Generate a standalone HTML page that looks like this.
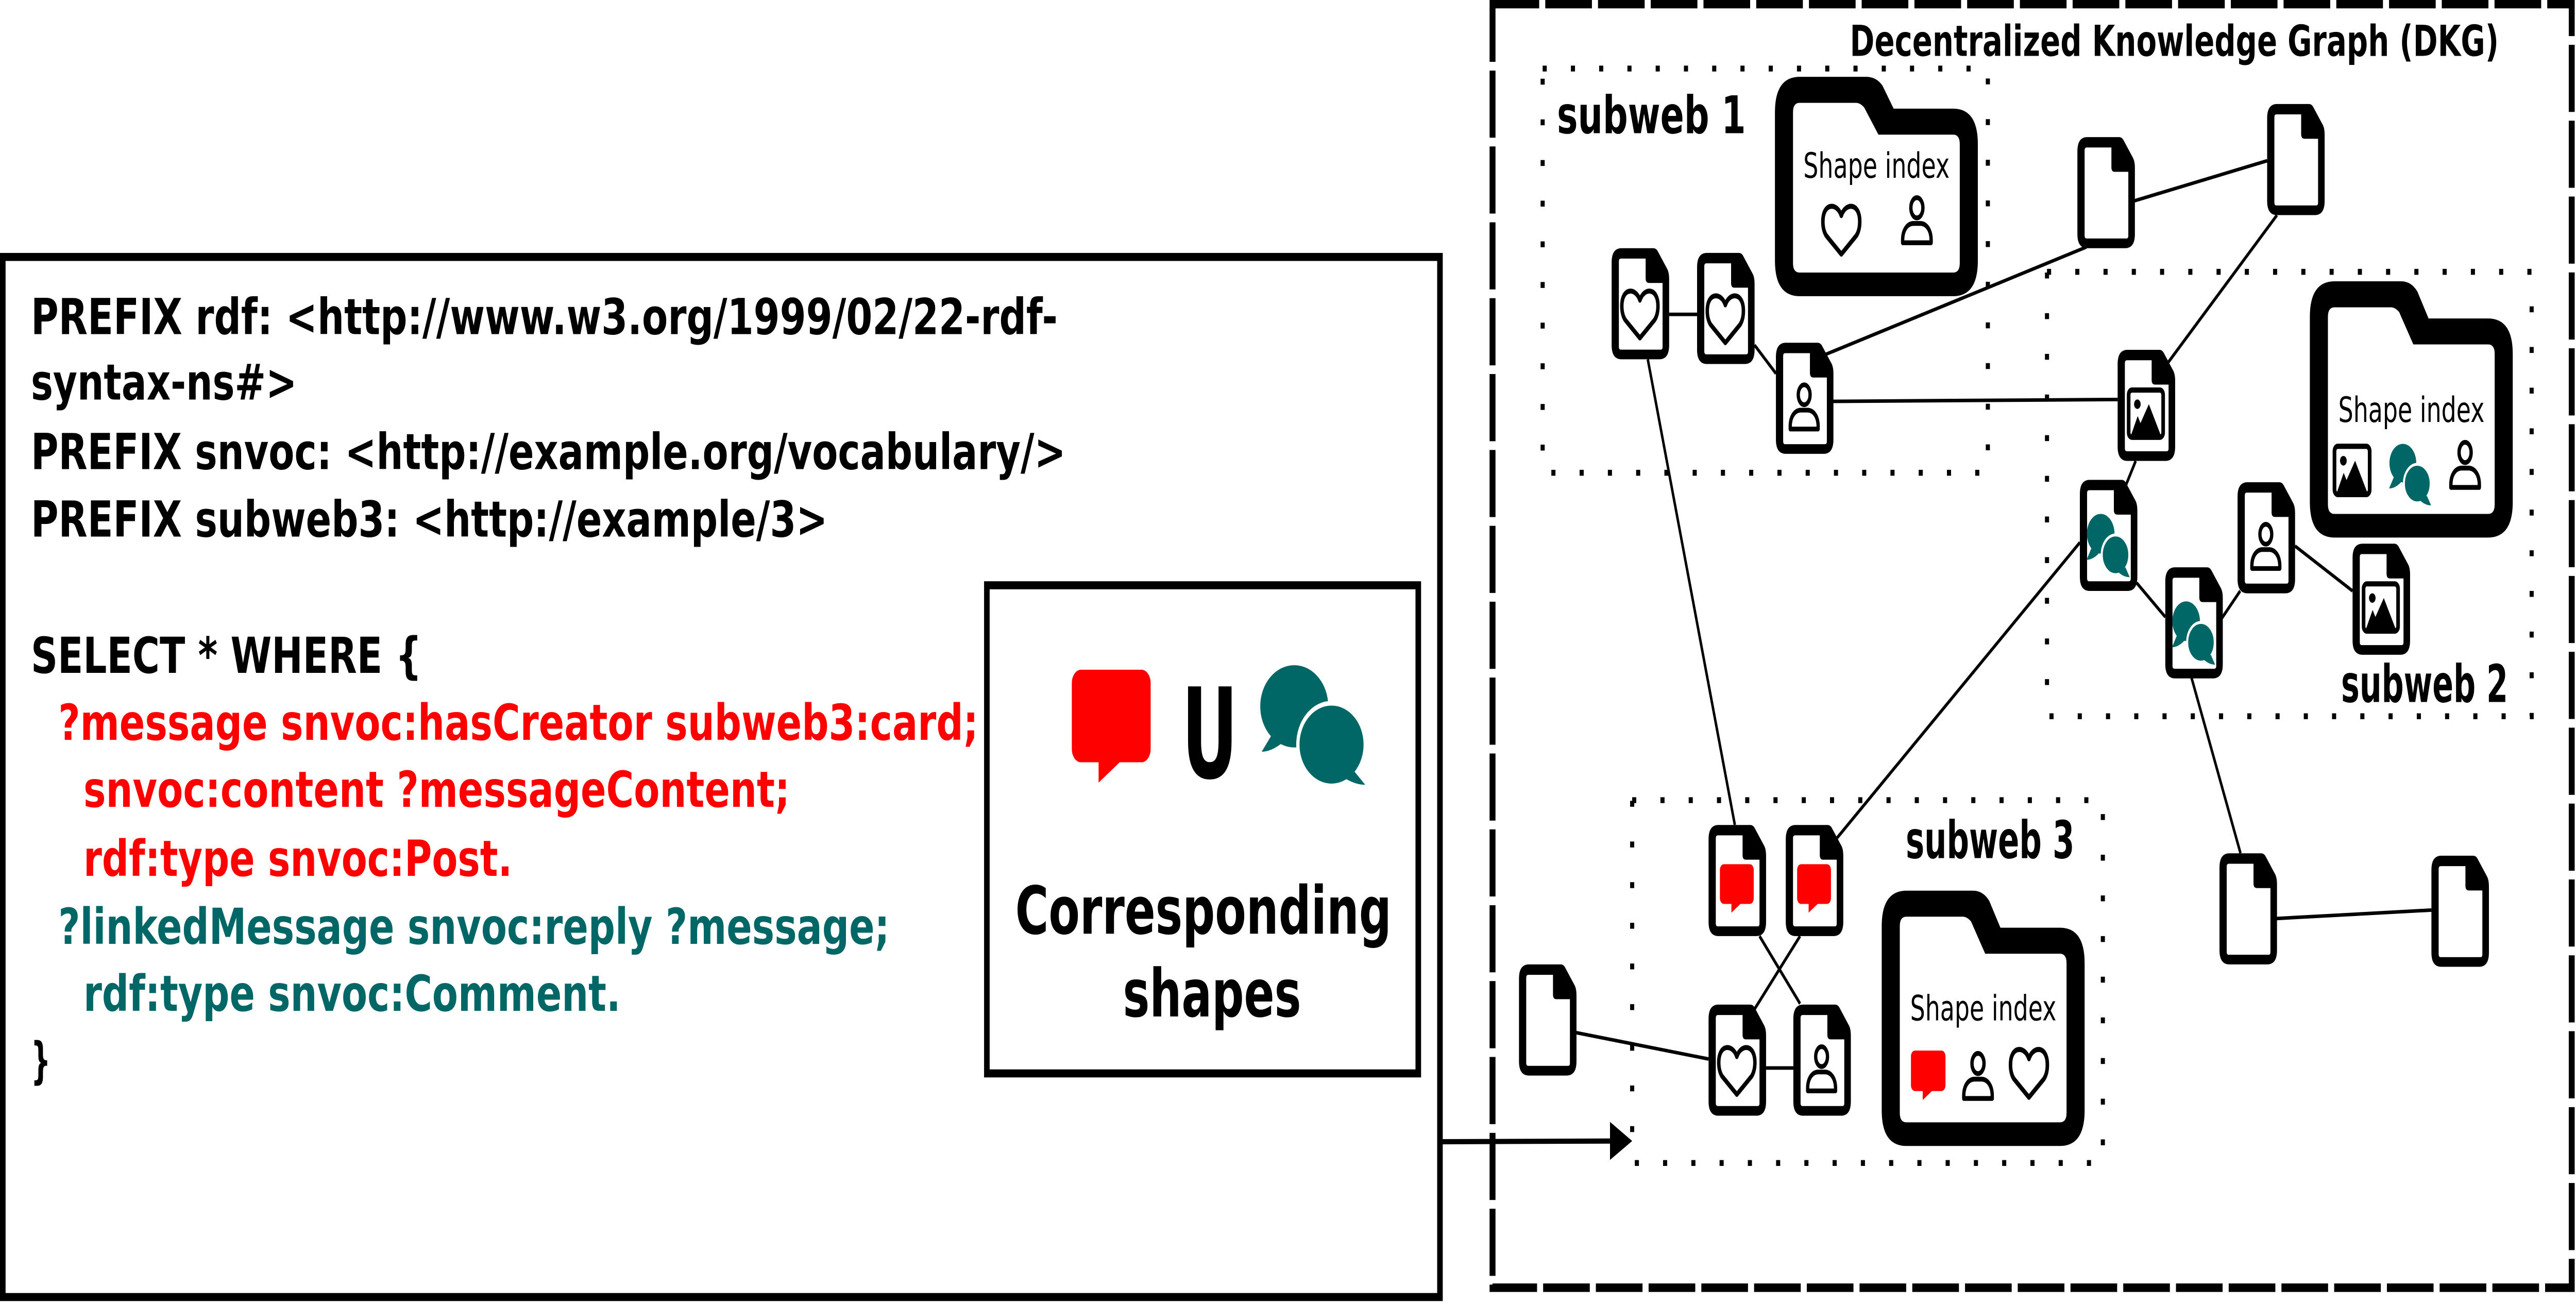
<!DOCTYPE html>
<html><head><meta charset="utf-8"><title>DKG shapes</title>
<style>html,body{margin:0;padding:0;background:#fff;width:100%;height:100%;overflow:hidden;}svg{display:block;position:absolute;left:0;top:0;width:100vw;height:100vh;}</style></head>
<body>
<svg id="fig" xmlns="http://www.w3.org/2000/svg" viewBox="0 0 1568 551.65" preserveAspectRatio="none">
<rect x="0" y="0" width="1568" height="551.65" fill="#fff"/>
<g font-family="'DejaVu Sans','Liberation Sans',sans-serif" font-weight="bold" font-size="21">
<rect x="1.7" y="108.7" width="874.8" height="440" fill="none" stroke="#000" stroke-width="3.4"/>
<text x="18.8" y="141.3" textLength="625" lengthAdjust="spacingAndGlyphs">PREFIX rdf: &lt;http://www.w3.org/1999/02/22-rdf-</text>
<text x="18.8" y="169" textLength="162" lengthAdjust="spacingAndGlyphs">syntax-ns#&gt;</text>
<text x="18.8" y="198.5" textLength="630" lengthAdjust="spacingAndGlyphs">PREFIX snvoc: &lt;http://example.org/vocabulary/&gt;</text>
<text x="18.8" y="227" textLength="485" lengthAdjust="spacingAndGlyphs">PREFIX subweb3: &lt;http://example/3&gt;</text>
<text x="18.8" y="284.6" textLength="238" lengthAdjust="spacingAndGlyphs">SELECT * WHERE {</text>
<text x="35.5" y="313" fill="#ff0000" textLength="560" lengthAdjust="spacingAndGlyphs">?message snvoc:hasCreator subweb3:card;</text>
<text x="50.8" y="341.3" fill="#ff0000" textLength="430" lengthAdjust="spacingAndGlyphs">snvoc:content ?messageContent;</text>
<text x="50.8" y="370.5" fill="#ff0000" textLength="261" lengthAdjust="spacingAndGlyphs">rdf:type snvoc:Post.</text>
<text x="35.5" y="399.3" fill="#006666" textLength="506" lengthAdjust="spacingAndGlyphs">?linkedMessage snvoc:reply ?message;</text>
<text x="50.8" y="427.6" fill="#006666" textLength="327" lengthAdjust="spacingAndGlyphs">rdf:type snvoc:Comment.</text>
<text x="18.8" y="456" textLength="12" lengthAdjust="spacingAndGlyphs">}</text>
</g>
<g>
<rect x="600.7" y="247.6" width="262.6" height="206.5" fill="none" stroke="#000" stroke-width="3.4"/>
<g transform="translate(676.4,302.9) scale(2.33)">
<rect x="-10.3" y="-8.4" width="20.6" height="16.8" rx="2.4" fill="#ff0000"/><polygon points="-3.3,8 -3.3,12.1 2.8,8" fill="#ff0000"/></g>
<text x="719.3" y="329" font-family="'DejaVu Sans','Liberation Sans',sans-serif" font-weight="bold" font-size="53" textLength="34.2" lengthAdjust="spacingAndGlyphs">U</text>
<g>
<ellipse cx="787.8" cy="298.8" rx="20.7" ry="17.4" fill="#006666"/>
<path d="M774,311 L768,318 Q774,318 781,314 Z" fill="#006666"/>
<ellipse cx="810.5" cy="315" rx="20.5" ry="17.5" fill="#006666" stroke="#fff" stroke-width="2"/>
<path d="M824,326 L831,332 Q825,332 818,329 Z" fill="#006666"/>
</g>
<text x="618" y="395" font-family="'DejaVu Sans','Liberation Sans',sans-serif" font-weight="bold" font-size="28" textLength="229" lengthAdjust="spacingAndGlyphs">Corresponding</text>
<text x="683.5" y="430" font-family="'DejaVu Sans','Liberation Sans',sans-serif" font-weight="bold" font-size="28" textLength="108.5" lengthAdjust="spacingAndGlyphs">shapes</text>
</g>
<g>
<line x1="876.5" y1="483" x2="982" y2="482.7" stroke="#000" stroke-width="2.2"/>
<polygon points="980,474.6 993.5,482.7 980,490.7" fill="#000"/>
</g>
<rect x="908.5" y="1.75" width="656.9" height="543" fill="none" stroke="#000" stroke-width="3.6" stroke-dasharray="28.4 3.7"/>
<text x="1126" y="23.6" font-family="'DejaVu Sans','Liberation Sans',sans-serif" font-weight="bold" font-size="18" textLength="395" lengthAdjust="spacingAndGlyphs">Decentralized Knowledge Graph (DKG)</text>
<g id="graph"></g>
</svg>
<script>
const NS='http://www.w3.org/2000/svg';
const g=document.getElementById('graph');
function mk(tag,attrs,parent){const e=document.createElementNS(NS,tag);for(const k in attrs)e.setAttribute(k,attrs[k]);(parent||g).appendChild(e);return e;}

// subweb regions
const subwebNames=['subweb 1','subweb 2','subweb 3'];
const subwebBoxes=[[939,29,271,171],[1246,115,295,188],[993.5,338.5,286.5,153.5]];
const subwebLabels=[[947.7,56.3,115],[1425,297,101.6],[1160,363,102.7]];
subwebBoxes.forEach((b,i)=>{
  const r=mk('rect',{x:b[0],y:b[1],width:b[2],height:b[3],fill:'none',stroke:'#000','stroke-width':2.5,'stroke-dasharray':'2.5 14.7'});
  
  
  const t=mk('text',{x:subwebLabels[i][0],y:subwebLabels[i][1],'font-family':"'DejaVu Sans','Liberation Sans',sans-serif",'font-weight':'bold','font-size':22,textLength:subwebLabels[i][2],lengthAdjust:'spacingAndGlyphs'});
  t.textContent=subwebNames[i];
  
  
});

// edges
const edges=[[1016,133,1033,133],[1068,146,1081,158],[1111,150,1270,104.5],[1299,85,1380,68],[1386,91,1318.5,154.5],
[1115,169.8,1289,169],[1300,195,1293,207],[1300.6,246.6,1318,261],[1350,264,1363.6,250],[1397,231,1432,250],
[1003,152,1056,349],[1266,229.5,1116.4,356],[1334,286.8,1363.8,361],[1385,388.6,1480,385],[959,436.8,1040,448],
[1075,451.8,1092,451.8],[1071,396,1095.7,424.6],[1095.7,396,1067,428]];
edges.forEach(e=>{
  const l=mk('line',{x1:e[0],y1:e[1],x2:e[2],y2:e[3],stroke:'#000','stroke-width':1.5});
  
  
});

// icons
function icon(kind,cx,cy,s,parent){
  const gi=mk('g',{transform:`translate(${cx},${cy}) scale(${s})`},parent);
  
  
  if(kind==='heart'){
    mk('path',{d:'M0,-5 C-2.5,-10.5 -11,-10.5 -11,-2.5 C-11,0 -10.3,1.8 -9,3.3 L0,11 L9,3.3 C10.3,1.8 11,0 11,-2.5 C11,-10.5 2.5,-10.5 0,-5 Z',fill:'none',stroke:'#000','stroke-width':2.1,'stroke-linejoin':'round'},gi);
  }else if(kind==='person'){
    mk('ellipse',{cx:0,cy:-5,rx:3.6,ry:4.2,fill:'none',stroke:'#000','stroke-width':2},gi);
    mk('path',{d:'M-8.5,9.5 L-8.5,8.5 C-8.5,4 -5.5,1.5 -2,1.5 L2,1.5 C5.5,1.5 8.5,4 8.5,8.5 L8.5,9.5 Z',fill:'none',stroke:'#000','stroke-width':2,'stroke-linejoin':'round'},gi);
  }else if(kind==='image'){
    mk('rect',{x:-10.5,y:-10,width:21,height:20,rx:2,fill:'#fff',stroke:'#000','stroke-width':2.2},gi);
    mk('circle',{cx:-5.2,cy:-4,r:2,fill:'#000'},gi);
    mk('polygon',{points:'-9,9 -5,1 -3.3,4 1.8,-4 9,9',fill:'#000'},gi);
  }else if(kind==='teal'){
    mk('circle',{cx:-4.3,cy:-4,r:8,fill:'#006666'},gi);
    mk('path',{d:'M-9.5,1.5 L-12.5,6.5 Q-9,6.5 -5.5,4 Z',fill:'#006666'},gi);
    mk('circle',{cx:4.3,cy:4.5,r:8,fill:'#006666',stroke:'#fff','stroke-width':1.2},gi);
    mk('path',{d:'M10,9.5 L12.5,13.5 Q9,13.5 6,11.5 Z',fill:'#006666'},gi);
  }else if(kind==='red'){
    mk('rect',{x:-10.3,y:-8.4,width:20.6,height:16.8,rx:2.4,fill:'#ff0000'},gi);
    mk('polygon',{points:'-3.3,8 -3.3,12.1 2.8,8',fill:'#ff0000'},gi);
  }
}

// documents
const docKinds=['heart','heart','person','plain','plain','image','teal','person','teal','image','red','red','heart','person','plain','plain','plain'];
const docX=[981,1033,1081,1264.5,1380,1289,1266,1362,1318,1432,1040,1087,1040,1091.6,924.6,1351,1480];
const docY=[105,107,145,58,44,148,203,204,240,230,349,349,425,425,408,361,362];
function doc(x,y,kind){
  const w=35,h=47;
  const gd=mk('g',{});
  
  
  mk('path',{d:`M${x+6},${y} L${x+25.5},${y} Q${x+27},${y} ${x+28},${y+1.2} L${x+34},${y+9} Q${x+w},${y+10.5} ${x+w},${y+13} L${x+w},${y+h-6} Q${x+w},${y+h} ${x+w-6},${y+h} L${x+6},${y+h} Q${x},${y+h} ${x},${y+h-6} L${x},${y+6} Q${x},${y} ${x+6},${y} Z`,fill:'#000'},gd);
  mk('path',{d:`M${x+5.6},${y+4.4} L${x+20.7},${y+4.4} L${x+20.7},${y+12.7} Q${x+20.7},${y+14.7} ${x+22.7},${y+14.7} L${x+31},${y+14.7} L${x+31},${y+41.8} Q${x+31},${y+42.9} ${x+29.9},${y+42.9} L${x+5.6},${y+42.9} Q${x+4.4},${y+42.9} ${x+4.4},${y+41.7} L${x+4.4},${y+5.6} Q${x+4.4},${y+4.4} ${x+5.6},${y+4.4} Z`,fill:'#fff'},gd);
  if(kind!=='plain') icon(kind,x+17.2,y+(kind==='red'?25:27),kind==='teal'?1.05:1,gd);
}
docKinds.forEach((k,i)=>doc(docX[i],docY[i],k));

// shape index folders
const folderX=[1080.4,1406,1145.4];
const folderY=[32.5,119,376.8];
const folderH=[92.8,108.4,108];
const folderIcons=[['heart','person'],['image','teal','person'],['red','person','heart']];
const folderIconX=[[1120.8,1166.8],[1431.7,1467,1500.5],[1173.7,1204,1235]];
const folderIconY=[[96.3,93],[199,200,196.5],[453,455,453]];
const folderTextY=[75.2,178.5,431.7];
function folder(x,y,w,h){
  const th=0.145*h,R=15,t=11,tb=10;
  const gf=mk('g',{});
  
  
  mk('path',{d:`M${x},${y+R} Q${x},${y} ${x+R},${y} L${x+0.45*w},${y} Q${x+0.5*w},${y} ${x+0.53*w},${y+0.04*h} L${x+0.585*w},${y+th} L${x+w-R},${y+th} Q${x+w},${y+th} ${x+w},${y+th+R} L${x+w},${y+h-R} Q${x+w},${y+h} ${x+w-R},${y+h} L${x+R},${y+h} Q${x},${y+h} ${x},${y+h-R} Z`,fill:'#000'},gf);
  mk('path',{d:`M${x+t},${y+t+4} Q${x+t},${y+t} ${x+t+4},${y+t} L${x+0.4*w},${y+t} Q${x+0.42*w},${y+t} ${x+0.44*w},${y+t+2} L${x+0.51*w},${y+th+t} L${x+w-t-4},${y+th+t} Q${x+w-t},${y+th+t} ${x+w-t},${y+th+t+4} L${x+w-t},${y+h-tb-4} Q${x+w-t},${y+h-tb} ${x+w-t-4},${y+h-tb} L${x+t+4},${y+h-tb} Q${x+t},${y+h-tb} ${x+t},${y+h-tb-4} Z`,fill:'#fff'},gf);
  return gf;
}
folderX.forEach((fx,i)=>{
  const gf=folder(fx,folderY[i],123.5,folderH[i]);
  const t=mk('text',{x:fx+61.8,y:folderTextY[i],'text-anchor':'middle','font-family':"'DejaVu Sans','Liberation Sans',sans-serif",'font-size':14.7,textLength:89,lengthAdjust:'spacingAndGlyphs'},gf);
  t.textContent='Shape index';
  
  
  folderIcons[i].forEach((k,j)=>icon(k,folderIconX[i][j],folderIconY[i][j],1.02,gf));
});
</script>
</body></html>
